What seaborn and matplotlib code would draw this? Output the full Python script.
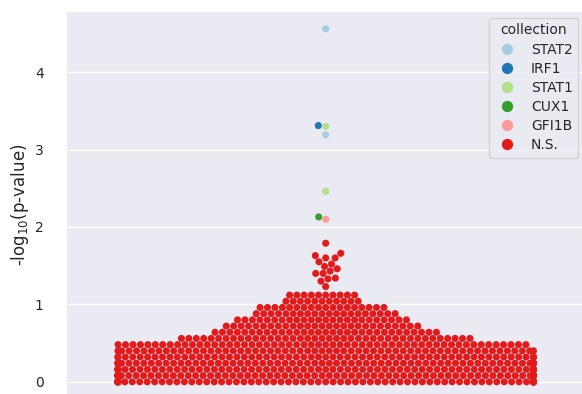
import numpy as np
import pandas as pd
import matplotlib
matplotlib.use("Agg")
import matplotlib.pyplot as plt
import seaborn as sns

# ---- data ----
hue_order = ["STAT2", "IRF1", "STAT1", "CUX1", "GFI1B", "N.S."]

sig_values = [4.56, 3.19, 3.31, 3.30, 2.46, 2.13, 2.10]
sig_collections = ["STAT2", "STAT2", "IRF1", "STAT1", "STAT1", "CUX1", "GFI1B"]

# non-significant points: rows of (nearly) tied -log10 p values with counts
ns_levels = [0.00, 0.08, 0.16, 0.24, 0.32, 0.40, 0.48, 0.56, 0.64, 0.72,
             0.80, 0.88, 0.96, 1.04, 1.12]
ns_counts = [78, 72, 68, 64, 60, 58, 56, 40, 31, 27, 24, 20, 18, 11, 10]
# the individual points of the upper N.S. cluster
ns_top = [1.23, 1.30, 1.33, 1.34, 1.40, 1.40, 1.43, 1.46, 1.49, 1.52,
          1.55, 1.60, 1.60, 1.63, 1.66, 1.79]

ns_values = list(np.repeat(ns_levels, ns_counts)) + ns_top
values = sig_values + ns_values
collections = sig_collections + ["N.S."] * len(ns_values)
df = pd.DataFrame({"value": values, "collection": collections})

# ---- plot ----
sns.set_theme(style="darkgrid")
plt.rcParams["font.family"] = ["DejaVu Sans"]

W, H = 582, 394
fig = plt.figure(figsize=(W / 100, H / 100), dpi=100)
ax = fig.add_axes([66 / W, -5.6 / H, 519.4 / W, 388.6 / H])

sns.swarmplot(data=df, y="value", hue="collection", hue_order=hue_order,
              palette="Paired", size=5.1, ax=ax)

ax.set_ylim(-0.23, 4.79)
ax.set_xlim(-0.5, 0.5)
ax.set_xticks([])
ax.set_xlabel("")
ax.set_yticks([0, 1, 2, 3, 4])
ax.set_ylabel("-log$_{10}$(p-value)", fontsize=12, labelpad=3)
ax.tick_params(axis="y", labelsize=10, pad=10)

sns.move_legend(ax, "upper right", title="collection", fontsize=10,
                title_fontsize=10, frameon=True, markerscale=1.6,
                borderaxespad=0.5, labelspacing=0.37, handlelength=1.8,
                handletextpad=0.8)

fig.savefig("out.png", dpi=100)
